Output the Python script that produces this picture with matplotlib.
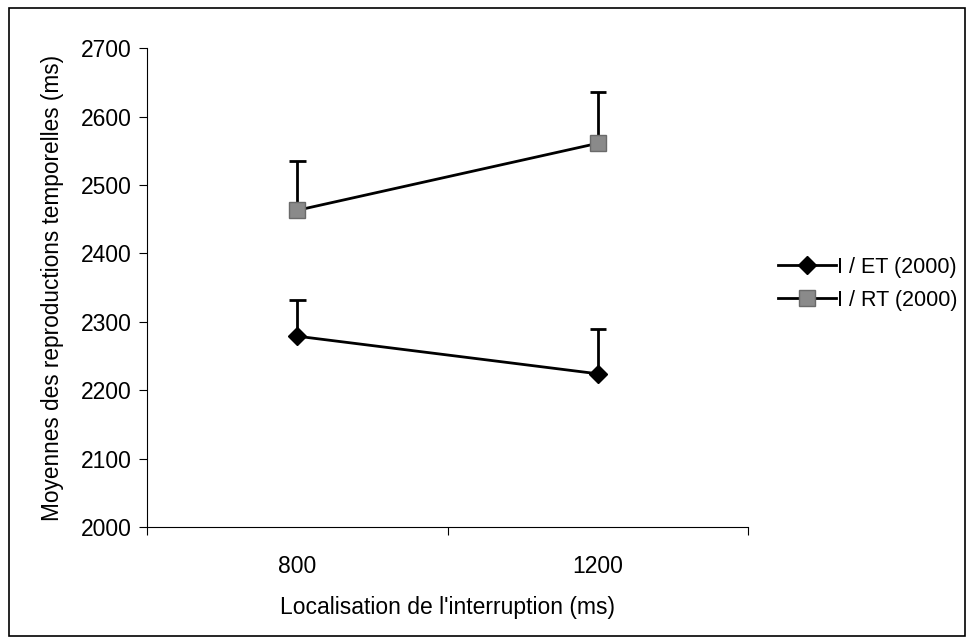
import matplotlib.pyplot as plt
from matplotlib.patches import Rectangle

plt.rcParams['font.family'] = ['Liberation Sans', 'DejaVu Sans']

categories = ['800', '1200']
et_means = [2279, 2224]
et_err = [53, 66]
rt_means = [2463, 2561]
rt_err = [72, 75]
labels = ['I / ET (2000)', 'I / RT (2000)']

fig = plt.figure(figsize=(9.72, 6.42), dpi=100)
ax = fig.add_axes([0.151, 0.179, 0.619, 0.746])

x = [0, 1]
cap = 0.028
# only the upper half of the error bars, as in the original
for means, err in [(et_means, et_err), (rt_means, rt_err)]:
    tops = [m + e for m, e in zip(means, err)]
    ax.vlines(x, means, tops, color='black', lw=2)
    ax.hlines(tops, [i - cap for i in x], [i + cap for i in x], color='black', lw=2)

h1, = ax.plot(x, et_means, color='black', lw=2, marker='D', ms=9,
              mfc='black', mec='black', label=labels[0])
h2, = ax.plot(x, rt_means, color='black', lw=2, marker='s', ms=11,
              mfc='#8a8a8a', mec='#6a6a6a', label=labels[1])

ax.set_xlim(-0.5, 1.5)
ax.set_ylim(2000, 2700)
ax.set_yticks(range(2000, 2701, 100))
ax.set_xticks([-0.5, 0.5, 1.5])
ax.set_xticklabels(['', '', ''])
ax.set_xticks(x, minor=True)
ax.set_xticklabels(categories, minor=True)
ax.tick_params(axis='x', which='minor', length=0, pad=20, labelsize=16.5)
ax.tick_params(axis='x', which='major', length=6, direction='out')
ax.tick_params(axis='y', length=6, labelsize=16.5, pad=5)

for s in ['top', 'right']:
    ax.spines[s].set_visible(False)

ax.set_xlabel("Localisation de l'interruption (ms)", fontsize=16.5, labelpad=13)
ax.set_ylabel('Moyennes des reproductions temporelles (ms)', fontsize=16.3, labelpad=12)

fig.legend([h1, h2], labels, loc='center left', bbox_to_anchor=(0.80, 0.558),
           frameon=False, fontsize=15.5, handlelength=2.7, handletextpad=0.05,
           labelspacing=0.55, borderpad=0, borderaxespad=0)

fig.patches.append(Rectangle((0.009, 0.01), 0.984, 0.978, transform=fig.transFigure,
                             fill=False, edgecolor='black', lw=1.2))

fig.savefig('out.png', dpi=100)
